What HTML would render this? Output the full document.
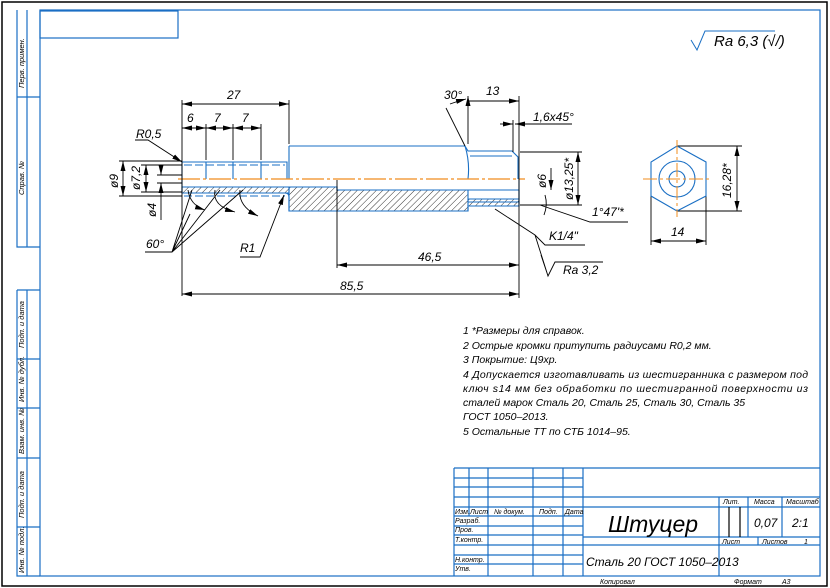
<!DOCTYPE html>
<html><head><meta charset="utf-8"><style>
html,body{margin:0;padding:0;background:#fff}
svg{display:block}
text{font-family:"Liberation Sans","DejaVu Sans",sans-serif;font-style:italic;fill:#000}
</style></head><body>
<svg width="830" height="588" viewBox="0 0 830 588" xmlns="http://www.w3.org/2000/svg">
<defs>
<pattern id="h" width="4.5" height="4.5" patternUnits="userSpaceOnUse" patternTransform="rotate(45)">
<line x1="0" y1="0" x2="0" y2="4.5" stroke="#000" stroke-width="0.8"/></pattern>
<marker id="a" viewBox="0 0 10 6" refX="10" refY="3" markerWidth="10" markerHeight="6" orient="auto-start-reverse" markerUnits="userSpaceOnUse"><path d="M0,0.5 L10,3 L0,5.5z" fill="#000"/></marker>
</defs>
<rect x="2" y="2" width="825" height="584" fill="none" stroke="#000" stroke-width="1.5"/>
<g stroke="#1a6fc4" stroke-width="1.2" fill="none">
<rect x="40" y="10" width="780" height="566"/>
<rect x="40" y="11" width="138" height="27"/>
<path d="M17 10 V247 H40 M27 10 V247 M17 97 H40"/>
<path d="M17 290 V576 H40 M27 290 V576 M17 290 H40 M17 359 H40 M17 408 H40 M17 458 H40 M17 527 H40"/>
<path d="M454 468 H820 M454 468 V576 M469 468 V516 M488 468 V576 M533 468 V576 M563 468 V576 M583 468 V576"/>
<path d="M454 478 H583 M454 487 H583 M454 497 H820 M454 507 H820 M454 516 H583 M454 526 H583 M454 535 H583 M454 545 H820 M454 555 H583 M454 564 H583 M583 537 H820"/>
<path d="M719 497 V576 M748 497 V537 M782 497 V537 M758 537 V545"/>
</g>
<path d="M729 507 V537 M740 507 V537" stroke="#000" stroke-width="1.2"/>
<g font-size="7.5">
<text transform="translate(24,88) rotate(-90)">Перв. примен.</text>
<text transform="translate(24,195) rotate(-90)">Справ. №</text>
<text transform="translate(24,348) rotate(-90)">Подп. и дата</text>
<text transform="translate(24,402) rotate(-90)">Инв. № дубл.</text>
<text transform="translate(24,454) rotate(-90)">Взам. инв. №</text>
<text transform="translate(24,518) rotate(-90)">Подп. и дата</text>
<text transform="translate(24,573) rotate(-90)">Инв. № подл.</text>
</g>
<path d="M691 40 L697 50 L705 31 H775" stroke="#1a6fc4" stroke-width="1" fill="none"/>
<text x="714" y="46" font-size="15">Ra 6,3 (√/)</text>

<g stroke="#1a6fc4" stroke-width="1.1" fill="none">
<path d="M182 187 H289 V193 H182z" fill="url(#h)"/>
<path d="M289 187 H337 V190 H468 V199 H519 V190 H519 V206 H468 V211 H289z" fill="url(#h)"/>
<path d="M182 162 H287 V179 M289 146 H465 L468 151 H512 L518 157 V179 M289 146 V179"/>
<path d="M206 162 V179 M233 162 V179 M261 162 V179"/>
<path d="M465 146 Q470 162 468 179 M470 156 H512"/>
<path d="M184 165 H285" stroke-dasharray="8 3"/>
<path d="M182 162 V193 M182 187 H337 V190 H519 M182 193 H285 Q289 193 289 197 V211 H468 V206 H519 V179"/>
<path d="M468 202 H519 M468 199 V206"/>
<path d="M184 196 H285" stroke-dasharray="8 3"/>
</g>
<path d="M178 179 H525" stroke="#f08c1e" stroke-width="1.2" stroke-dasharray="22 3 3 3"/>
<g stroke="#000" stroke-width="0.9" fill="none">
<path d="M182 100 V296 M289 100 V144 M519 96 V298 M337 180 V268"/>
<path d="M182 104 H289" marker-start="url(#a)" marker-end="url(#a)"/>
<path d="M182 128 H206" marker-start="url(#a)" marker-end="url(#a)"/>
<path d="M206 128 H233" marker-start="url(#a)" marker-end="url(#a)"/>
<path d="M233 128 H261" marker-start="url(#a)" marker-end="url(#a)"/>
<path d="M206 124 V160 M233 124 V160 M261 124 V160"/>
<path d="M182 294 H519" marker-start="url(#a)" marker-end="url(#a)"/>
<path d="M337 265 H519" marker-start="url(#a)" marker-end="url(#a)"/>
<path d="M119 161 H182 M119 196 H182 M141 165 H182 M141 192 H182 M157 175 H182 M157 183 H182"/>
<path d="M123 161 V196" marker-start="url(#a)" marker-end="url(#a)"/>
<path d="M146 165 V192" marker-start="url(#a)" marker-end="url(#a)"/>
<path d="M161 165 V175" marker-end="url(#a)"/><path d="M161 220 V183" marker-end="url(#a)"/>
<path d="M135 140 H148 L182 162" marker-end="url(#a)"/>
<path d="M145 252 H172 L192 190 M172 252 L220 190 M172 252 L243 190 M172 252 L190 214"/>
<path d="M188 190 Q190 205 205 210" marker-end="url(#a)"/>
<path d="M215 190 Q212 206 235 212" marker-end="url(#a)"/>
<path d="M240 190 Q238 206 258 216" marker-end="url(#a)"/>
<path d="M240 257 H260 L284 195" marker-end="url(#a)"/>
<path d="M468 96 V144 M468 101 H519" marker-start="url(#a)" marker-end="url(#a)"/>
<path d="M446 108 L465 146 M450 104 Q458 101 466 99" marker-end="url(#a)"/>
<path d="M500 124 H513" marker-end="url(#a)"/><path d="M572 124 H515" marker-end="url(#a)"/>
<path d="M513 120 V152"/>
<path d="M520 152 H582 M520 205 H582"/>
<path d="M578 152 V205" marker-start="url(#a)" marker-end="url(#a)"/>
<path d="M551 168 V190" marker-end="url(#a)"/>
<path d="M545 195 Q548 205 544 215"/>
<path d="M540 205 L590 222 H628"/>
<path d="M495 209 L535 235 L545 245 H585"/>
<path d="M535 235 L548 276 L555 262 H603 M548 276 L541 255"/>
<path d="M677 146 H742 M677 211 H742 M651 196 V245 M706 196 V245"/>
<path d="M737 146 V211" marker-start="url(#a)" marker-end="url(#a)"/>
<path d="M651 241 H706" marker-start="url(#a)" marker-end="url(#a)"/>
</g>
<g stroke="#1a6fc4" stroke-width="1.1" fill="none">
<path d="M677 146 L706 162 V196 L677 211 L651 196 V162z"/>
<circle cx="677" cy="179" r="18"/><circle cx="677" cy="179" r="8"/>
</g>
<path d="M643 179 H712 M677 140 V217" stroke="#f08c1e" stroke-width="1" stroke-dasharray="14 3 3 3"/>
<g font-size="12">
<text x="227" y="99">27</text>
<text x="187" y="122">6</text><text x="214" y="122">7</text><text x="242" y="122">7</text>
<text x="136" y="138">R0,5</text>
<text transform="translate(118,188) rotate(-90)">ø9</text>
<text transform="translate(140,190) rotate(-90)">ø7,2</text>
<text transform="translate(156,217) rotate(-90)">ø4</text>
<text x="146" y="248">60°</text>
<text x="240" y="252">R1</text>
<text x="418" y="261">46,5</text>
<text x="340" y="290">85,5</text>
<text x="444" y="99">30°</text>
<text x="486" y="95">13</text>
<text x="533" y="121">1,6x45°</text>
<text transform="translate(546,188) rotate(-90)">ø6</text>
<text transform="translate(573,200) rotate(-90)">ø13,25*</text>
<text x="592" y="216">1°47'*</text>
<text x="549" y="240">K1/4"</text>
<text x="563" y="274">Ra 3,2</text>
<text transform="translate(731,198) rotate(-90)">16,28*</text>
<text x="671" y="236">14</text>
</g>
<g font-size="10.5">
<text x="463" y="334">1  *Размеры для справок.</text>
<text x="463" y="349">2  Острые кромки притупить радиусами R0,2 мм.</text>
<text x="463" y="363">3  Покрытие: Ц9хр.</text>
<text x="463" y="378" textLength="345" lengthAdjust="spacing">4  Допускается изготавливать из шестигранника с размером под</text>
<text x="463" y="392" textLength="345" lengthAdjust="spacing">ключ s14 мм без обработки по шестигранной поверхности из</text>
<text x="463" y="406">сталей марок Сталь 20, Сталь 25, Сталь 30, Сталь 35</text>
<text x="463" y="420">ГОСТ 1050–2013.</text>
<text x="463" y="435">5  Остальные ТТ по СТБ 1014–95.</text>
</g>
<g font-size="7">
<text x="455" y="514">Изм.</text><text x="470" y="514">Лист</text><text x="494" y="514">№ докум.</text><text x="539" y="514">Подп.</text><text x="565" y="514">Дата</text>
<text x="455" y="523">Разраб.</text><text x="455" y="532">Пров.</text><text x="455" y="542">Т.контр.</text>
<text x="455" y="562">Н.контр.</text><text x="455" y="571">Утв.</text>
<text x="723" y="504">Лит.</text><text x="754" y="504">Масса</text><text x="786" y="504">Масштаб</text>
<text x="722" y="544">Лист</text><text x="762" y="544">Листов</text><text x="804" y="544">1</text>
<text x="600" y="584">Копировал</text><text x="734" y="584">Формат</text><text x="782" y="584">А3</text>
</g>
<text x="608" y="532" font-size="23">Штуцер</text>
<text x="586" y="566" font-size="12">Сталь 20 ГОСТ 1050–2013</text>
<text x="754" y="527" font-size="12">0,07</text>
<text x="792" y="527" font-size="12">2:1</text>
</svg>
</body></html>
